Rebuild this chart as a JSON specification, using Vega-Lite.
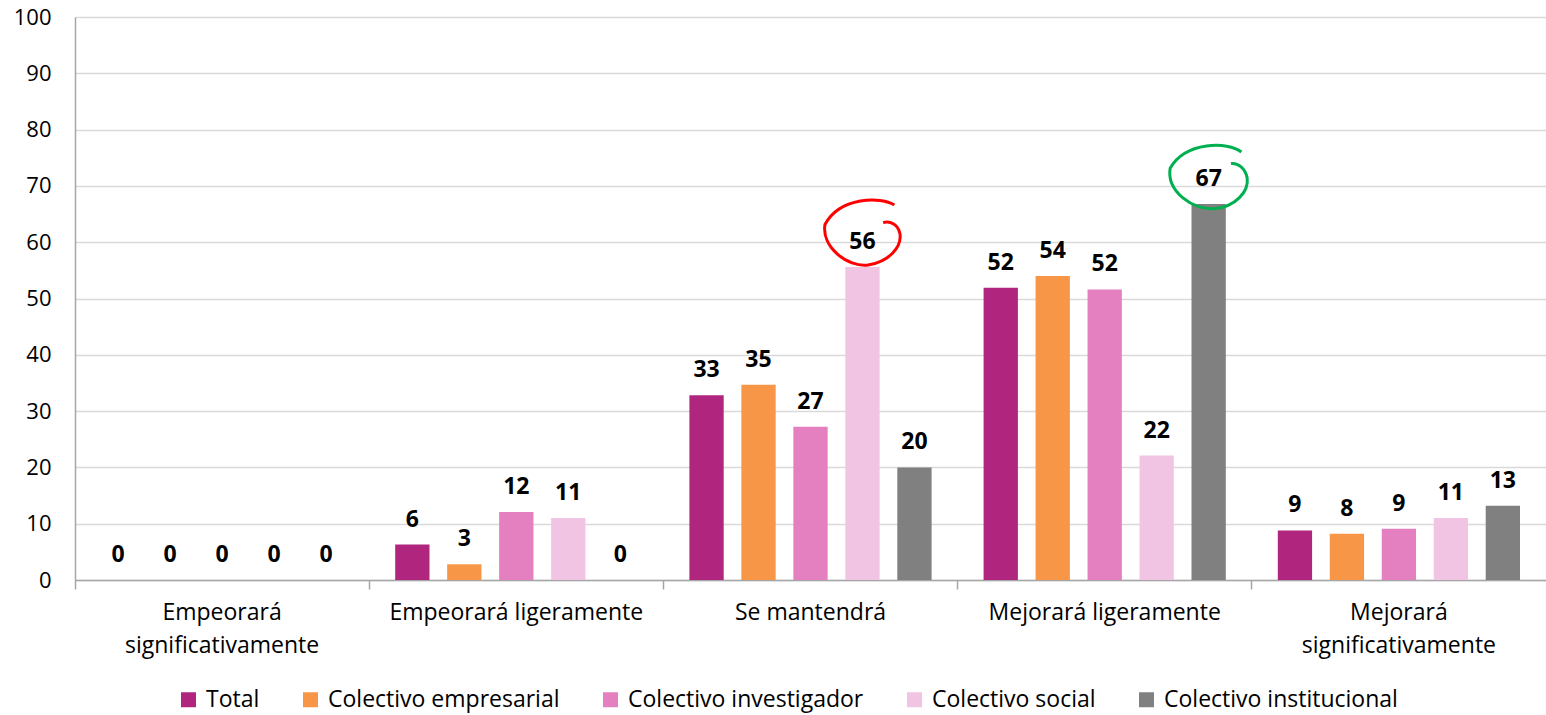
{
  "$schema": "https://vega.github.io/schema/vega-lite/v6.json",
  "width": 1471,
  "height": 563,
  "autosize": {"type": "none"},
  "padding": {"left": 75, "top": 17, "right": 0, "bottom": 135},
  "background": "white",
  "config": {"view": {"stroke": null}, "font": "Open Sans"},
  "data": {
    "values": [
      {"cat": "Empeorará significativamente", "grupo": "Total", "v": 0},
      {"cat": "Empeorará significativamente", "grupo": "Colectivo empresarial", "v": 0},
      {"cat": "Empeorará significativamente", "grupo": "Colectivo investigador", "v": 0},
      {"cat": "Empeorará significativamente", "grupo": "Colectivo social", "v": 0},
      {"cat": "Empeorará significativamente", "grupo": "Colectivo institucional", "v": 0},
      {"cat": "Empeorará ligeramente", "grupo": "Total", "v": 6.3},
      {"cat": "Empeorará ligeramente", "grupo": "Colectivo empresarial", "v": 2.8},
      {"cat": "Empeorará ligeramente", "grupo": "Colectivo investigador", "v": 12.1},
      {"cat": "Empeorará ligeramente", "grupo": "Colectivo social", "v": 11.0},
      {"cat": "Empeorará ligeramente", "grupo": "Colectivo institucional", "v": 0},
      {"cat": "Se mantendrá", "grupo": "Total", "v": 32.8},
      {"cat": "Se mantendrá", "grupo": "Colectivo empresarial", "v": 34.7},
      {"cat": "Se mantendrá", "grupo": "Colectivo investigador", "v": 27.2},
      {"cat": "Se mantendrá", "grupo": "Colectivo social", "v": 55.6},
      {"cat": "Se mantendrá", "grupo": "Colectivo institucional", "v": 20.0},
      {"cat": "Mejorará ligeramente", "grupo": "Total", "v": 51.9},
      {"cat": "Mejorará ligeramente", "grupo": "Colectivo empresarial", "v": 54.0},
      {"cat": "Mejorará ligeramente", "grupo": "Colectivo investigador", "v": 51.6},
      {"cat": "Mejorará ligeramente", "grupo": "Colectivo social", "v": 22.1},
      {"cat": "Mejorará ligeramente", "grupo": "Colectivo institucional", "v": 66.8},
      {"cat": "Mejorará significativamente", "grupo": "Total", "v": 8.8},
      {"cat": "Mejorará significativamente", "grupo": "Colectivo empresarial", "v": 8.2},
      {"cat": "Mejorará significativamente", "grupo": "Colectivo investigador", "v": 9.1},
      {"cat": "Mejorará significativamente", "grupo": "Colectivo social", "v": 11.0},
      {"cat": "Mejorará significativamente", "grupo": "Colectivo institucional", "v": 13.2}
    ]
  },
  "encoding": {
    "x": {
      "field": "cat",
      "type": "nominal",
      "sort": ["Empeorará significativamente", "Empeorará ligeramente", "Se mantendrá", "Mejorará ligeramente", "Mejorará significativamente"],
      "scale": {"paddingInner": 0, "paddingOuter": 0},
      "axis": {
        "title": null,
        "labelAngle": 0,
        "bandPosition": 0,
        "domainColor": "#A6A6A6",
        "domainWidth": 1.5,
        "tickColor": "#A6A6A6",
        "tickWidth": 1.5,
        "tickSize": 9,
        "labelFontSize": 23,
        "labelColor": "#000000",
        "labelPadding": 12,
        "labelLineHeight": 33,
        "labelLimit": 0,
        "labelExpr": "indexof(datum.label, 'significativamente') > 0 ? split(datum.label, ' ') : datum.label"
      }
    },
    "xOffset": {
      "field": "grupo",
      "type": "nominal",
      "sort": ["Total", "Colectivo empresarial", "Colectivo investigador", "Colectivo social", "Colectivo institucional"],
      "scale": {"paddingInner": 0.34, "paddingOuter": 0.5}
    },
    "y": {
      "field": "v",
      "type": "quantitative",
      "scale": {"domain": [0, 100], "nice": false},
      "axis": {
        "title": null,
        "values": [0, 10, 20, 30, 40, 50, 60, 70, 80, 90, 100],
        "grid": true,
        "gridColor": "#D9D9D9",
        "gridWidth": 1.3,
        "domainColor": "#A6A6A6",
        "domainWidth": 1.5,
        "ticks": false,
        "labelFontSize": 22,
        "labelColor": "#000000",
        "labelPadding": 24
      }
    }
  },
  "layer": [
    {
      "mark": {"type": "bar"},
      "encoding": {
        "color": {
          "field": "grupo",
          "type": "nominal",
          "sort": ["Total", "Colectivo empresarial", "Colectivo investigador", "Colectivo social", "Colectivo institucional"],
          "scale": {
            "domain": ["Total", "Colectivo empresarial", "Colectivo investigador", "Colectivo social", "Colectivo institucional"],
            "range": ["#B0267F", "#F79646", "#E480C0", "#F1C4E3", "#808080"]
          },
          "legend": {
            "title": null,
            "orient": "none",
            "legendX": 102,
            "legendY": 671,
            "direction": "horizontal",
            "columns": 5,
            "columnPadding": 39,
            "labelFontSize": 23,
            "labelColor": "#000000",
            "labelOffset": 6,
            "labelLimit": 0,
            "symbolType": "square",
            "symbolSize": 225,
            "symbolStrokeWidth": 0
          }
        }
      }
    },
    {
      "mark": {"type": "text", "dy": -18, "baseline": "alphabetic", "fontWeight": "bold", "fontSize": 23, "color": "#000000"},
      "encoding": {"text": {"field": "v", "type": "quantitative", "format": ".0f"}}
    },
    {
      "transform": [{"filter": "datum.cat == 'Se mantendrá' && datum.grupo == 'Colectivo social'"}],
      "mark": {
        "type": "point",
        "shape": "M0.85,-0.72C0.5,-0.95 -0.6,-0.95 -1,-0.2C-1.1,0.4 -0.4,0.95 0.15,0.88C0.7,0.8 1.05,0.4 1,0.05C0.95,-0.2 0.75,-0.3 0.55,-0.25",
        "size": 5625,
        "filled": false,
        "stroke": "#FF0000",
        "strokeWidth": 3,
        "opacity": 1,
        "yOffset": -35
      },
      "encoding": {}
    },
    {
      "transform": [{"filter": "datum.cat == 'Mejorará ligeramente' && datum.grupo == 'Colectivo institucional'"}],
      "mark": {
        "type": "point",
        "shape": "M0.85,-0.62C0.5,-0.9 -0.6,-0.9 -1,-0.2C-1.1,0.4 -0.4,0.9 0.15,0.85C0.7,0.8 1.05,0.4 1,0.05C0.95,-0.2 0.75,-0.35 0.58,-0.32",
        "size": 5930,
        "filled": false,
        "stroke": "#00B050",
        "strokeWidth": 3,
        "opacity": 1,
        "yOffset": -28
      },
      "encoding": {}
    }
  ]
}
